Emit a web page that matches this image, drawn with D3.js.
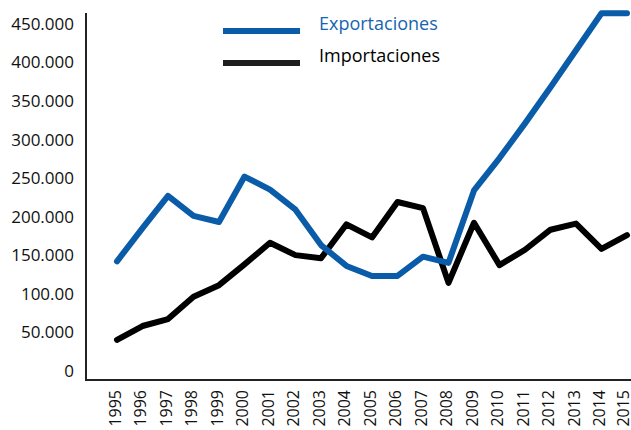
<!DOCTYPE html>
<html>
<head>
<meta charset="utf-8">
<script src="https://cdn.jsdelivr.net/npm/d3@7"></script>
<style>
  body { margin: 0; background: #fff; }
  text { font-family: "Open Sans", "Noto Sans", sans-serif; }
</style>
</head>
<body>
<div id="chart"></div>
<script>
// data
var years = ["1995", "1996", "1997", "1998", "1999", "2000", "2001", "2002", "2003", "2004", "2005",
  "2006", "2007", "2008", "2009", "2010", "2011", "2012", "2013", "2014", "2015"];
var exportaciones = [142000, 185000, 227000, 201000, 193000, 252000, 235000, 209000, 163000, 136000, 123000,
  123000, 148000, 140000, 234000, 276000, 321000, 368000, 416000, 464000, 464000];
var importaciones = [40000, 58000, 67000, 96000, 111000, 138000, 166000, 150000, 146000, 190000, 173000,
  219000, 211000, 114000, 192000, 137000, 157000, 183000, 191000, 158000, 176000];
var yTicks = [0, 50000, 100000, 150000, 200000, 250000, 300000, 350000, 400000, 450000];
var yTickLabels = ["0", "50.000", "100.00", "150.000", "200.000", "250.000", "300.000", "350.000", "400.000", "450.000"];
var seriesNames = ["Exportaciones", "Importaciones"];

var width = 631,
  height = 430;

var blue = "#0a5ca8",
  dark = "#000";

var svg = d3.select("#chart").append("svg")
  .attr("width", width)
  .attr("height", height);

var x = d3.scalePoint()
  .domain(years)
  .range([117, 627]);

var y = d3.scaleLinear()
  .domain([0, 450000])
  .range([370.7, 24]);

// axis lines
svg.append("line")
  .attr("x1", 86).attr("x2", 86)
  .attr("y1", 13).attr("y2", 381)
  .style("stroke", "#222")
  .style("stroke-width", 2);
svg.append("line")
  .attr("x1", 85).attr("x2", 631)
  .attr("y1", 380).attr("y2", 380)
  .style("stroke", "#222")
  .style("stroke-width", 2);

// y labels
svg.selectAll(".ylab")
  .data(yTicks)
  .enter()
  .append("text")
  .attr("class", "ylab")
  .attr("x", 74)
  .attr("y", function (d) { return y(d); })
  .attr("dy", "0.35em")
  .attr("text-anchor", "end")
  .style("font-size", "17px")
  .style("fill", "#111")
  .text(function (d, i) { return yTickLabels[i]; });

// x labels, rotated
svg.selectAll(".xlab")
  .data(years)
  .enter()
  .append("text")
  .attr("class", "xlab")
  .attr("transform", function (d, i) {
    var shift = i == years.length - 1 ? 4 : 2;
    return "translate(" + (x(d) - shift) + ",390) rotate(-90)";
  })
  .attr("dy", "0.35em")
  .attr("text-anchor", "end")
  .style("font-size", "16px")
  .style("fill", "#111")
  .text(function (d) { return d; });

var line = d3.line()
  .x(function (d, i) { return x(years[i]); })
  .y(function (d) { return y(d); });

svg.append("path")
  .datum(importaciones)
  .attr("d", line)
  .style("fill", "none")
  .style("stroke", dark)
  .style("stroke-width", 6)
  .style("stroke-linejoin", "round")
  .style("stroke-linecap", "round");

svg.append("path")
  .datum(exportaciones)
  .attr("d", line)
  .style("fill", "none")
  .style("stroke", blue)
  .style("stroke-width", 6)
  .style("stroke-linejoin", "round")
  .style("stroke-linecap", "round");

// legend
var legend = svg.selectAll(".legend")
  .data(seriesNames)
  .enter()
  .append("g")
  .attr("class", "legend")
  .attr("transform", function (d, i) { return "translate(0," + (31 + i * 32) + ")"; });

legend.append("line")
  .attr("x1", 223).attr("x2", 300)
  .attr("y1", 0).attr("y2", 0)
  .style("stroke", function (d, i) { return i == 0 ? blue : "#1e1e1e"; })
  .style("stroke-width", 6);

legend.append("text")
  .attr("x", 319)
  .attr("y", 0)
  .attr("dy", "-0.05em")
  .style("font-size", "18px")
  .style("fill", function (d, i) { return i == 0 ? "#1565b0" : "#000"; })
  .text(function (d) { return d; });
</script>
</body>
</html>
